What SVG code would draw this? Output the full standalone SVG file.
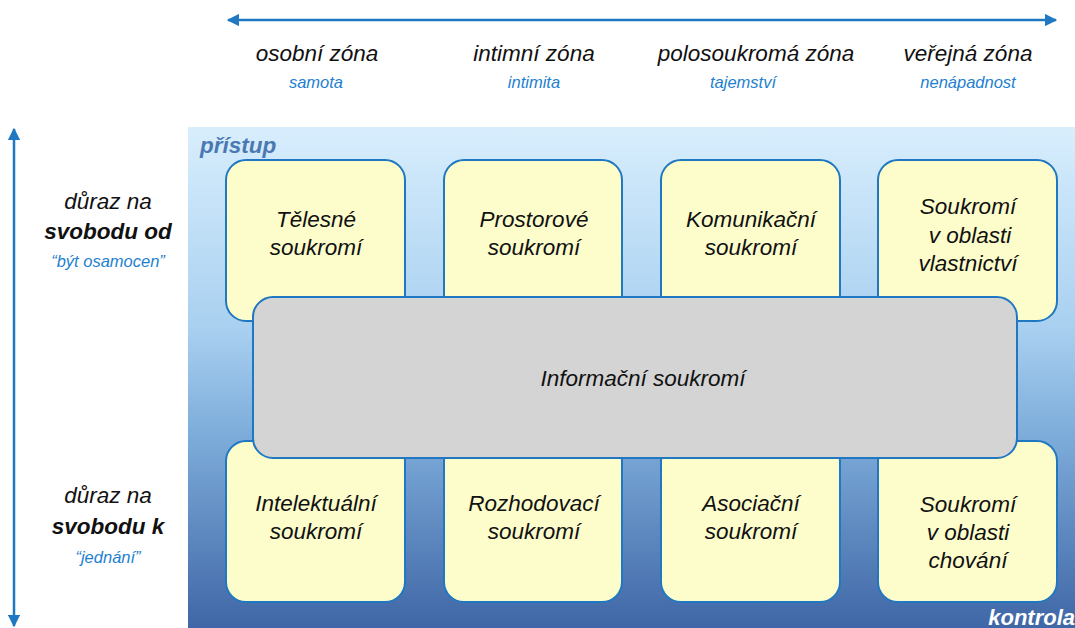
<svg xmlns="http://www.w3.org/2000/svg" width="1075" height="628" viewBox="0 0 1075 628">
<defs>
<linearGradient id="bg" x1="0" y1="0" x2="0" y2="1">
<stop offset="0" stop-color="#d8eefd"/>
<stop offset="0.4" stop-color="#a9d0f0"/>
<stop offset="0.6" stop-color="#80afdc"/>
<stop offset="1" stop-color="#3f66a6"/>
</linearGradient>
<marker id="ah" viewBox="0 0 10 10" refX="9" refY="5" markerWidth="5" markerHeight="5" orient="auto-start-reverse" markerUnits="strokeWidth">
<path d="M0,0 L10,5 L0,10 z" fill="#1f78c1"/>
</marker>
<style>
.box{fill:#fdfdcc;stroke:#1f78c1;stroke-width:2}
.grey{fill:#d4d4d4;stroke:#1f78c1;stroke-width:2}
.t{font-family:"Liberation Sans",Arial,sans-serif;font-style:italic;font-size:22.5px;fill:#111;text-anchor:middle}
.zone{font-family:"Liberation Sans",Arial,sans-serif;font-style:italic;font-size:22.5px;fill:#111;text-anchor:middle}
.sub{font-family:"Liberation Sans",Arial,sans-serif;font-style:italic;font-size:16.5px;fill:#1e7fd0;text-anchor:middle}
.b{font-weight:bold}
.ax{stroke:#1f78c1;stroke-width:2.5;fill:none}
</style>
</defs>
<rect x="188" y="127" width="887" height="501" fill="url(#bg)"/>
<text x="200" y="153" font-family="Liberation Sans, Arial, sans-serif" font-style="italic" font-weight="bold" font-size="22.5" fill="#4a78b2">přístup</text>
<text x="1075" y="625" font-family="Liberation Sans, Arial, sans-serif" font-style="italic" font-weight="bold" font-size="22" fill="#ffffff" text-anchor="end">kontrola</text>
<g id="connectors">
<line class="ax" x1="228" y1="20" x2="1056" y2="20" marker-start="url(#ah)" marker-end="url(#ah)"/>
<line class="ax" x1="14" y1="129" x2="14" y2="626" marker-start="url(#ah)" marker-end="url(#ah)"/>
</g>
<g id="zones">
<text class="zone" x="317" y="61">osobní zóna</text>
<text class="sub" x="316" y="88">samota</text>
<text class="zone" x="534" y="61">intimní zóna</text>
<text class="sub" x="534" y="88">intimita</text>
<text class="zone" x="756" y="61">polosoukromá zóna</text>
<text class="sub" x="743" y="88">tajemství</text>
<text class="zone" x="968" y="61">veřejná zóna</text>
<text class="sub" x="968" y="88">nenápadnost</text>
</g>
<g id="left-labels">
<text class="zone" x="108" y="209">důraz na</text>
<text class="zone b" x="108" y="239">svobodu od</text>
<text class="sub" x="108" y="267">“být osamocen”</text>
<text class="zone" x="108" y="503">důraz na</text>
<text class="zone b" x="108" y="534">svobodu k</text>
<text class="sub" x="108" y="563">“jednání”</text>
</g>
<g id="n1"><rect class="box" x="226" y="160" width="179" height="161" rx="20"/>
<text class="t" x="316" y="227">Tělesné</text><text class="t" x="316" y="255">soukromí</text></g>
<g id="n2"><rect class="box" x="444" y="160" width="178" height="161" rx="20"/>
<text class="t" x="534" y="227">Prostorové</text><text class="t" x="534" y="255">soukromí</text></g>
<g id="n3"><rect class="box" x="661" y="160" width="179" height="161" rx="20"/>
<text class="t" x="751" y="227">Komunikační</text><text class="t" x="751" y="255">soukromí</text></g>
<g id="n4"><rect class="box" x="878" y="160" width="179" height="161" rx="20"/>
<text class="t" x="968" y="214">Soukromí</text><text class="t" x="970" y="243">v oblasti</text><text class="t" x="968" y="271">vlastnictví</text></g>
<g id="n5"><rect class="box" x="226" y="441" width="179" height="161" rx="20"/>
<text class="t" x="316" y="511">Intelektuální</text><text class="t" x="316" y="539">soukromí</text></g>
<g id="n6"><rect class="box" x="444" y="441" width="178" height="161" rx="20"/>
<text class="t" x="534" y="511">Rozhodovací</text><text class="t" x="534" y="539">soukromí</text></g>
<g id="n7"><rect class="box" x="661" y="441" width="179" height="161" rx="20"/>
<text class="t" x="751" y="511">Asociační</text><text class="t" x="751" y="539">soukromí</text></g>
<g id="n8"><rect class="box" x="878" y="441" width="179" height="161" rx="20"/>
<text class="t" x="968" y="512">Soukromí</text><text class="t" x="968" y="540">v oblasti</text><text class="t" x="968" y="568">chování</text></g>
<g id="n9"><rect class="grey" x="253" y="297" width="764" height="161" rx="20"/>
<text class="t" x="643" y="386">Informační soukromí</text></g>
</svg>
